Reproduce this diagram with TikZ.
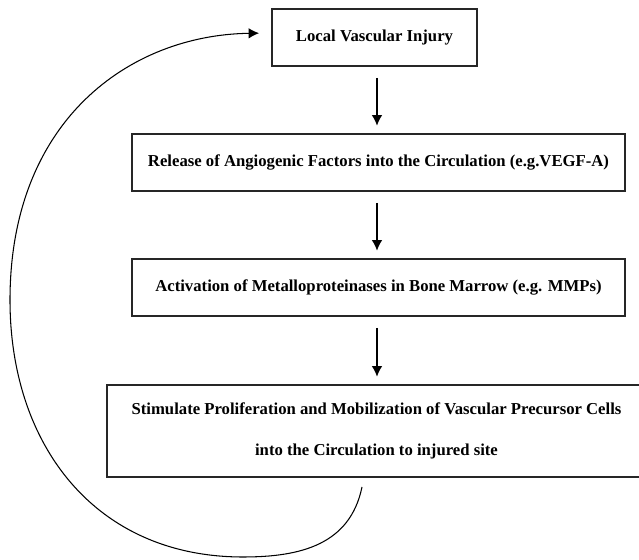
\documentclass[tikz,border=0pt]{standalone}
\usepackage{fontspec}
\setmainfont{Liberation Serif}
\usepackage{tikz}
\usetikzlibrary{arrows.meta, positioning, calc}
\tikzset{stepbox/.style={draw=black!85, line width=1pt, rectangle, align=center,
			font=\fontsize{9.5}{23.3}\selectfont\bfseries, inner sep=0pt}}
\tikzset{flow/.style={-{Latex[length=6pt,width=6pt]}, line width=0.6pt,
			shorten <=0.22cm, shorten >=0.15cm}}

\begin{document}
\begin{tikzpicture}
			\clip (0,0) rectangle (12.78,11.2);
			% boxes
			\node[stepbox, minimum width=4.1cm, minimum height=1.14cm] (injury) at (7.49,10.45) {Local Vascular Injury};
			\node[stepbox, minimum width=9.86cm, minimum height=1.14cm] (release) at (7.57,7.95) {Release of Angiogenic Factors into the Circulation (e.g.VEGF-A)};
			\node[stepbox, minimum width=9.86cm, minimum height=1.14cm] (activation) at (7.57,5.45) {Activation of Metalloproteinases in Bone Marrow (e.g. MMPs)};
			\node[stepbox, minimum width=10.78cm, minimum height=1.84cm] (mobilize) at (7.53,2.58) {Stimulate Proliferation and Mobilization of Vascular Precursor Cells\\into the Circulation to injured site};
			% arrows down
			\draw[flow] (7.54,0 |- injury.south) -- (7.54,0 |- release.north);
			\draw[flow] (7.54,0 |- release.south) -- (7.54,0 |- activation.north);
			\draw[flow] (7.54,0 |- activation.south) -- (7.54,0 |- mobilize.north);
			% feedback loop
			\coordinate (loopstart) at (7.24,1.46);
			\draw[-{Latex[length=6pt,width=6pt]}, line width=0.6pt, shorten >=0.24cm] (loopstart)
				.. controls (7.0,0.3) and (6.0,0.06) .. (4.86,0.06)
				.. controls (1.9,0.06) and (0.2,2.3) .. (0.2,5.2)
				.. controls (0.2,8.8) and (2.6,10.5) .. ([yshift=0.09cm]injury.west);
		\end{tikzpicture}
\end{document}
